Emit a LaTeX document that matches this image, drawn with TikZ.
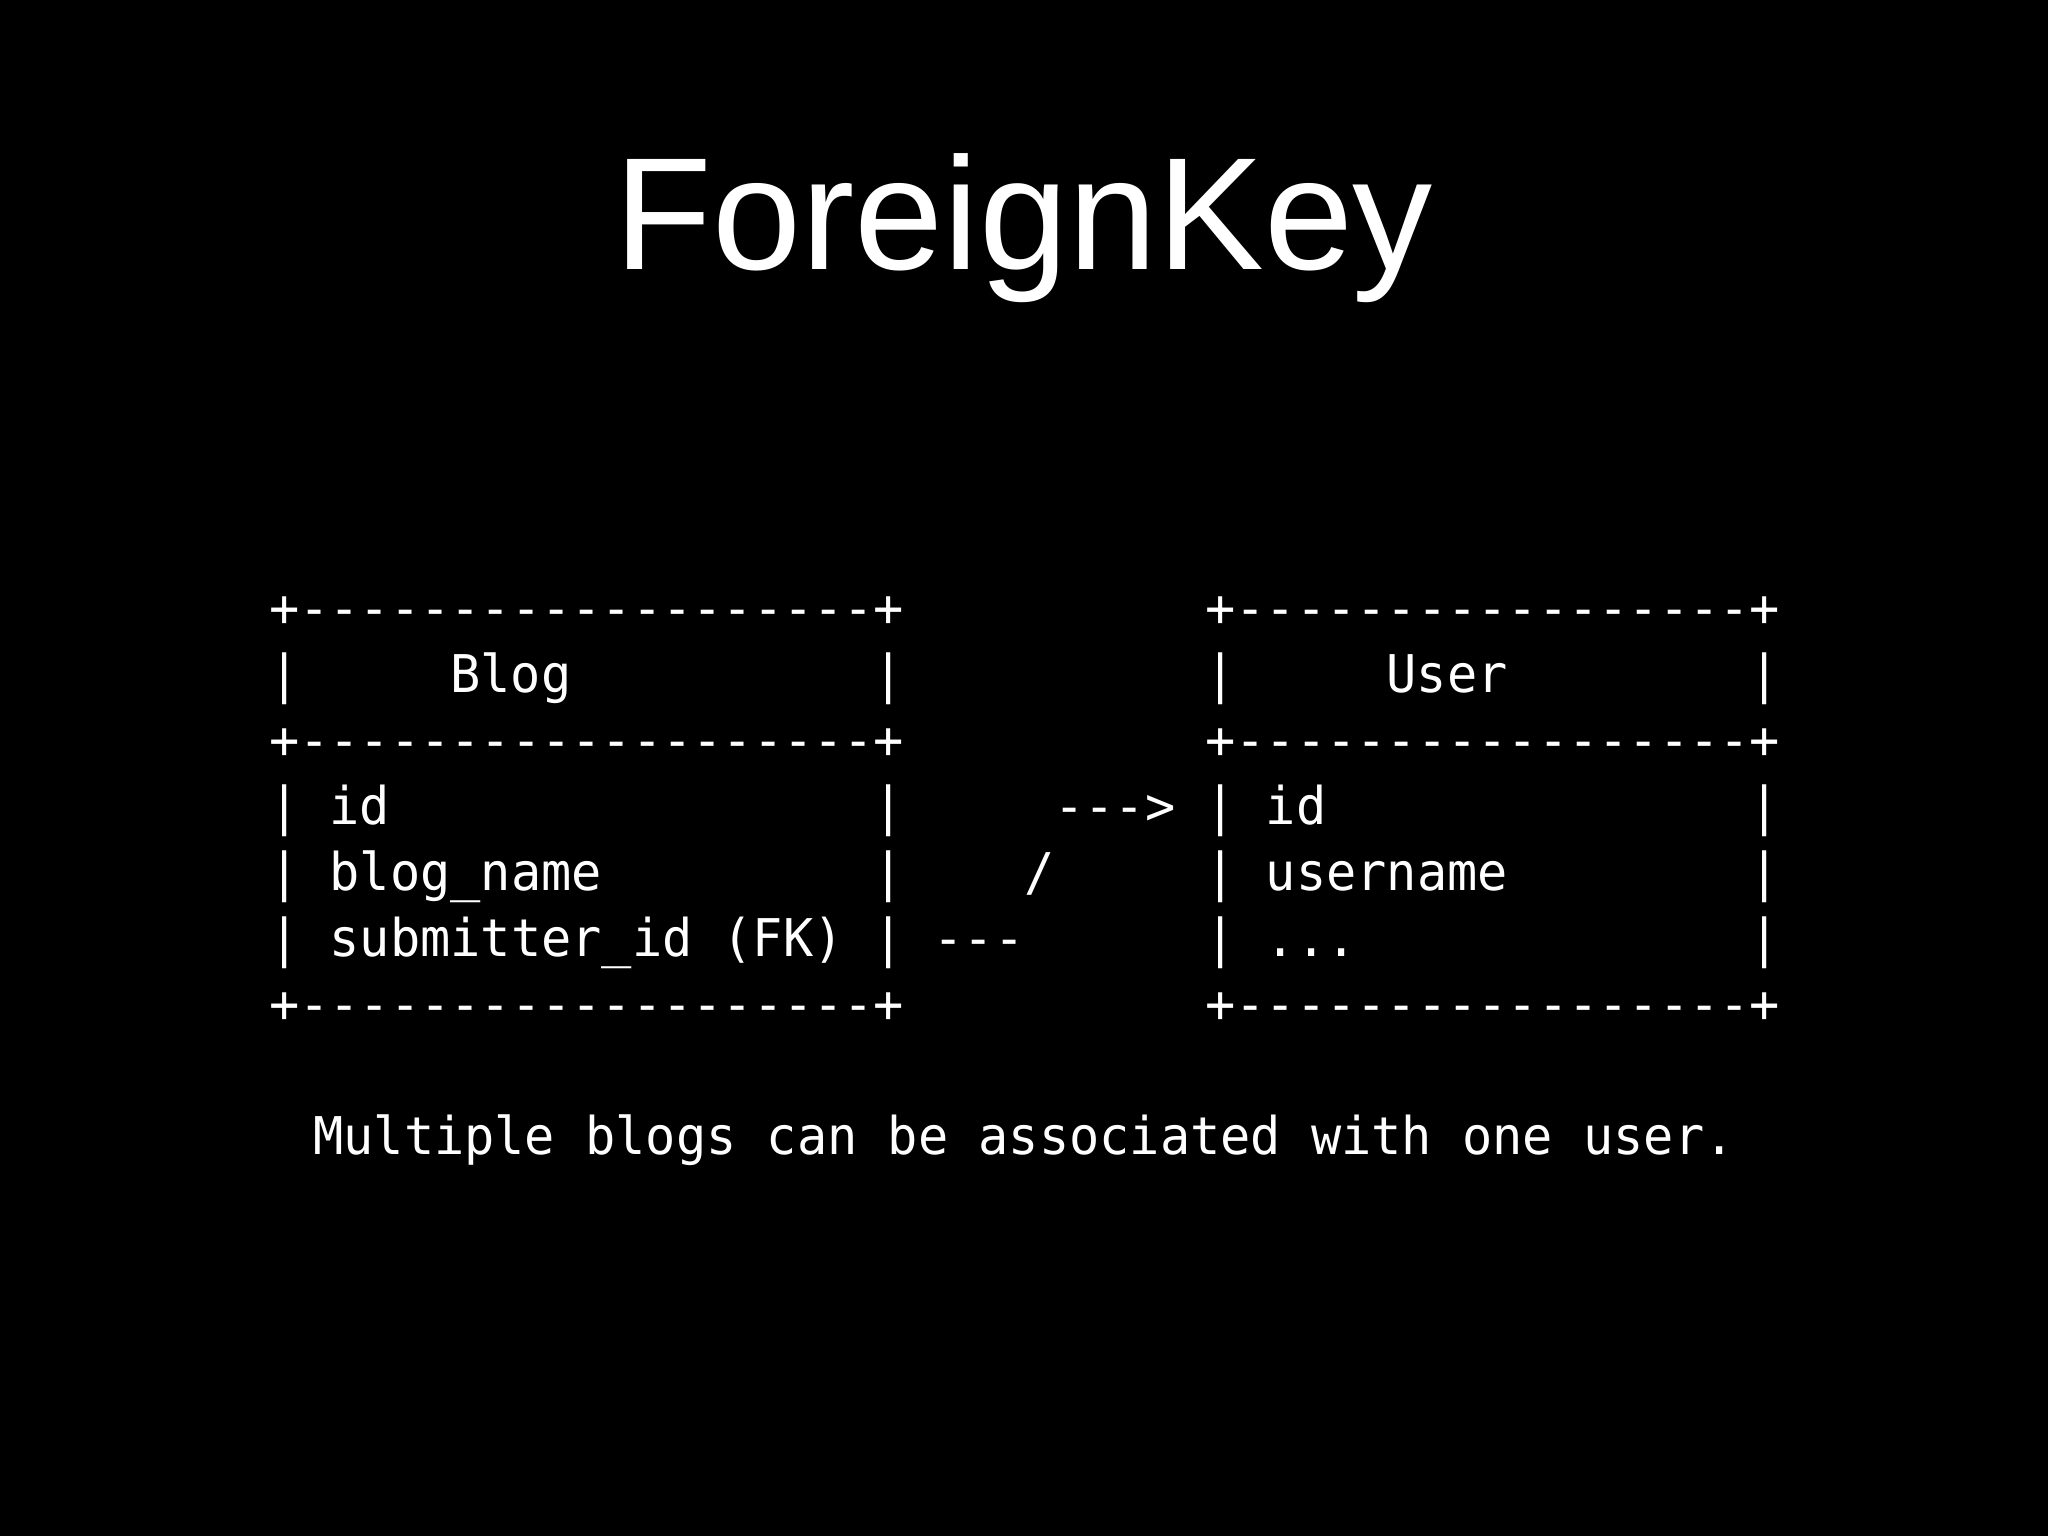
\documentclass[tikz,border=0pt]{standalone}
\usepackage{fontspec}
\newfontfamily\mytitlefont{Liberation Sans}
\newfontfamily\mymonofont{DejaVu Sans Mono}[Ligatures=TeXOff,FakeStretch=0.966]
\begin{document}
\begin{tikzpicture}[x=1pt,y=-1pt]
\tikzset{
  mono/.style={font=\fontsize{52}{66}\mymonofont, text=white, inner sep=0pt, anchor=base west},
  titletext/.style={font=\fontsize{160}{180}\mytitlefont, text=white, inner sep=0pt, anchor=base},
  note/.style={font=\fontsize{52}{66}\mymonofont, text=white, inner sep=0pt, anchor=base}
}
\def\cx#1{269+#1*30.2}
\fill[black] (0,0) rectangle (2048,1536);
\useasboundingbox (0,0) rectangle (2048,1536);
% title
\node[titletext] (title) at (1024,269) {ForeignKey};
% row 1
\node[mono] (btop) at ({\cx{0}},626) {+-------------------+};
\node[mono] (utop) at ({\cx{31}},626) {+-----------------+};
% row 2
\node[mono] (b2l) at ({\cx{0}},692) {|};
\node[mono] (blog) at ({\cx{6}},692) {Blog};
\node[mono] (b2r) at ({\cx{20}},692) {|};
\node[mono] (u2l) at ({\cx{31}},692) {|};
\node[mono] (user) at ({\cx{37}},692) {User};
\node[mono] (u2r) at ({\cx{49}},692) {|};
% row 3
\node[mono] (bmid) at ({\cx{0}},758) {+-------------------+};
\node[mono] (umid) at ({\cx{31}},758) {+-----------------+};
% row 4
\node[mono] (b4l) at ({\cx{0}},824) {|};
\node[mono] (bid) at ({\cx{2}},824) {id};
\node[mono] (b4r) at ({\cx{20}},824) {|};
\node[mono] (arrowhead) at ({\cx{26}},824) {--->};
\node[mono] (u4l) at ({\cx{31}},824) {|};
\node[mono] (uid) at ({\cx{33}},824) {id};
\node[mono] (u4r) at ({\cx{49}},824) {|};
% row 5
\node[mono] (b5l) at ({\cx{0}},890) {|};
\node[mono] (bname) at ({\cx{2}},890) {blog\_name};
\node[mono] (b5r) at ({\cx{20}},890) {|};
\node[mono] (slash) at ({\cx{25}},890) {/};
\node[mono] (u5l) at ({\cx{31}},890) {|};
\node[mono] (uname) at ({\cx{33}},890) {username};
\node[mono] (u5r) at ({\cx{49}},890) {|};
% row 6
\node[mono] (b6l) at ({\cx{0}},956) {|};
\node[mono] (bsub) at ({\cx{2}},956) {submitter\_id (FK)};
\node[mono] (b6r) at ({\cx{20}},956) {|};
\node[mono] (arrowtail) at ({\cx{22}},956) {---};
\node[mono] (u6l) at ({\cx{31}},956) {|};
\node[mono] (udots) at ({\cx{33}},956) {...};
\node[mono] (u6r) at ({\cx{49}},956) {|};
% row 7
\node[mono] (bbot) at ({\cx{0}},1022) {+-------------------+};
\node[mono] (ubot) at ({\cx{31}},1022) {+-----------------+};
% caption
\node[note] (caption) at (1024,1154) {Multiple blogs can be associated with one user.};
\end{tikzpicture}
\end{document}
